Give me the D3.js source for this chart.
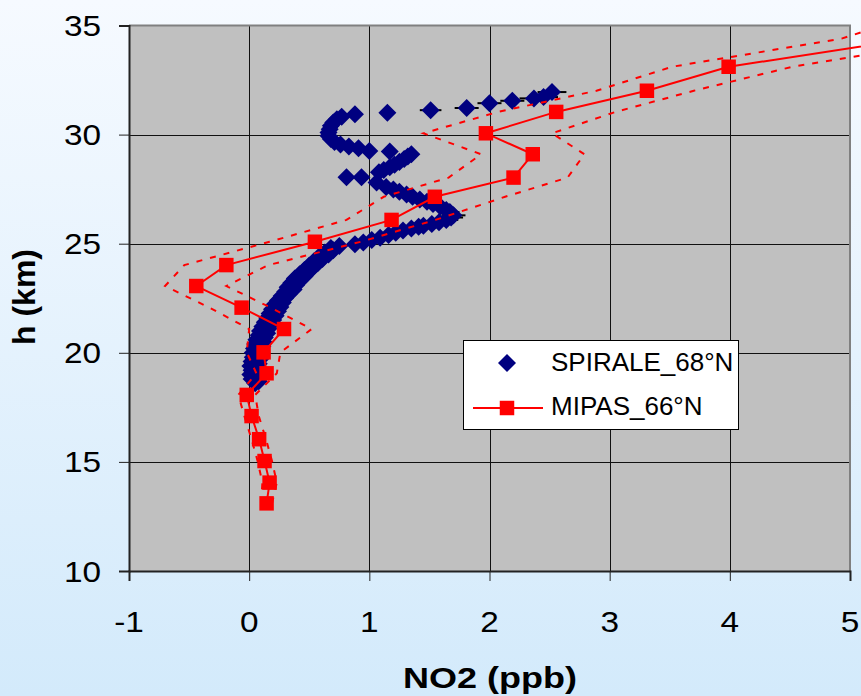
<!DOCTYPE html>
<html><head><meta charset="utf-8">
<script src="https://cdn.jsdelivr.net/npm/d3@7"></script>
<style>html,body{margin:0;padding:0;overflow:hidden;background:#fff;} svg{display:block;}</style>
</head><body>
<svg id="chart" width="861" height="696"></svg>
<script>
// ---- tick labels ----
const xTicks = [-1, 0, 1, 2, 3, 4, 5];
const yTicks = [10, 15, 20, 25, 30, 35];

// ---- MIPAS_66°N : altitude (km), NO2 (ppb), lower / upper bound ----
const mipasAlt  = [13.1, 14.05, 15.04, 16.04, 17.1, 18.07, 19.06, 20.02, 21.09, 22.07, 23.06, 24.02, 25.09, 26.09, 27.15, 28.03, 29.1, 30.06, 31.04, 32.01, 33.11, 34.4, 35.4];
const mipasNO2  = [0.145, 0.17, 0.128, 0.083, 0.02, -0.02, 0.145, 0.12, 0.29, -0.063, -0.44, -0.19, 0.547, 1.185, 1.545, 2.20, 2.36, 1.97, 2.555, 3.31, 3.99, 5.53, 6.2];
const mipasLow  = [0.10, 0.11, 0.07, 0.02, -0.04, -0.09, 0.06, -0.02, 0.0, -0.33, -0.70, -0.54, 0.17, 0.81, 1.12, 1.66, 1.93, 1.45, 2.07, 2.89, 3.52, 4.93, 5.5];
const mipasHigh = [0.19, 0.23, 0.19, 0.14, 0.08, 0.05, 0.23, 0.26, 0.52, 0.18, -0.19, 0.16, 0.93, 1.55, 2.13, 2.65, 2.79, 2.52, 3.05, 3.70, 4.52, 5.95, 6.8];

// ---- SPIRALE_68°N : [altitude km, NO2 ppb, error ppb] ----
const spiraleLower = [
  [18.6,0.05,0.05],[18.7,0.08,0.05],[18.8,0.02,0.05],[18.9,0.06,0.05],[19.0,0.01,0.05],[19.1,0.08,0.05],
  [19.2,0.02,0.05],[19.3,0.07,0.05],[19.4,0.01,0.05],[19.5,0.08,0.05],[19.6,0.02,0.05],[19.7,0.09,0.05],
  [19.8,0.03,0.05],[19.9,0.09,0.05],[20.0,0.03,0.05],[20.1,0.10,0.05],[20.2,0.04,0.05],[20.3,0.11,0.05],
  [20.4,0.05,0.05],[20.5,0.12,0.05],[20.6,0.06,0.05],[20.7,0.13,0.05],[20.8,0.08,0.05],[20.9,0.15,0.05],
  [21.0,0.09,0.05],[21.1,0.16,0.05],[21.2,0.11,0.05],[21.3,0.18,0.05],[21.4,0.13,0.05],[21.5,0.20,0.05],
  [21.6,0.15,0.05],[21.7,0.22,0.05],[21.8,0.17,0.05],[21.9,0.24,0.05],[22.0,0.19,0.05],[22.1,0.26,0.05],
  [22.2,0.21,0.05],[22.3,0.28,0.05],[22.4,0.24,0.05],[22.5,0.30,0.05],[22.6,0.27,0.05],[22.7,0.33,0.05],
  [22.8,0.30,0.05],[22.9,0.37,0.05],[23.0,0.32,0.05],[23.1,0.39,0.05],[23.2,0.35,0.05],[23.3,0.42,0.05],
  [23.4,0.38,0.05],[23.5,0.46,0.05],[23.6,0.42,0.05],[23.7,0.49,0.05],[23.8,0.46,0.05],[23.9,0.53,0.05],
  [24.0,0.50,0.05],[24.1,0.57,0.05],[24.2,0.54,0.05],[24.3,0.61,0.05],[24.4,0.58,0.05],[24.5,0.66,0.05],
  [24.6,0.63,0.05],[24.7,0.70,0.05],[24.8,0.68,0.05],[24.9,0.75,0.05]
];
const spiraleUpper = [
  [24.97,0.88,0.05],[25.06,0.95,0.05],[25.17,1.02,0.05],[25.27,1.09,0.05],[25.4,1.16,0.05],[25.5,1.22,0.05],
  [25.6,1.28,0.05],[25.7,1.35,0.05],[25.78,1.41,0.08],[25.82,1.45,0.08],[25.9,1.52,0.1],[25.98,1.58,0.1],
  [26.09,1.64,0.1],[26.2,1.68,0.1],[26.3,1.70,0.1],[26.45,1.67,0.08],[26.55,1.64,0.05],[26.7,1.59,0.05],
  [26.82,1.53,0.05],[26.92,1.48,0.05],[27.02,1.42,0.05],[27.15,1.36,0.05],[27.25,1.31,0.05],[27.38,1.25,0.05],
  [27.48,1.20,0.05],[27.6,1.14,0.05],[27.8,1.06,0.05],[28.05,0.935,0.05],[28.05,0.81,0.05],
  [28.28,1.08,0.05],[28.38,1.12,0.05],[28.5,1.17,0.05],[28.62,1.21,0.05],[28.75,1.25,0.05],[28.88,1.29,0.05],
  [29.0,1.32,0.05],[29.1,1.35,0.05],[29.22,1.17,0.05],[29.25,1.0,0.05],[29.38,0.91,0.05],[29.46,0.83,0.05],
  [29.55,0.76,0.05],[29.66,0.71,0.05],[29.8,0.68,0.05],[29.95,0.66,0.05],[30.1,0.66,0.05],[30.25,0.67,0.05],
  [30.4,0.68,0.05],[30.55,0.70,0.05],[30.7,0.73,0.05],[30.82,0.77,0.05],[30.93,0.88,0.05],[31.0,1.15,0.05],
  [31.12,1.51,0.09],[31.22,1.81,0.1],[31.44,2.0,0.1],[31.55,2.19,0.1],[31.66,2.37,0.12],[31.72,2.45,0.12],
  [31.95,2.52,0.12]
];

const W = 861, H = 696;
const svg = d3.select("#chart");
const x = d3.scaleLinear().domain([-1, 5]).range([129, 850]);
const y = d3.scaleLinear().domain([10, 35]).range([571, 25.5]);

// background gradient
const defs = svg.append("defs");
const grad = defs.append("linearGradient").attr("id", "bg").attr("x1", 0).attr("y1", 0).attr("x2", 0).attr("y2", 1);
grad.append("stop").attr("offset", "0%").attr("stop-color", "#f6faff");
grad.append("stop").attr("offset", "100%").attr("stop-color", "#d3eafb");
svg.append("rect").attr("width", W).attr("height", H).attr("fill", "url(#bg)");

// plot area
const [x0, x1] = x.range(), [y0, y1] = y.range();
svg.append("rect").attr("x", x0).attr("y", y1).attr("width", x1 - x0).attr("height", y0 - y1).attr("fill", "#c0c0c0");

// grid
const grid = svg.append("g").attr("stroke", "#111").attr("stroke-width", 1).attr("shape-rendering", "crispEdges");
grid.selectAll(".gv").data(xTicks.slice(1, -1)).join("line")
  .attr("x1", d => Math.round(x(d)) + 0.5).attr("x2", d => Math.round(x(d)) + 0.5)
  .attr("y1", y1).attr("y2", y0);
grid.selectAll(".gh").data(yTicks.slice(1, -1)).join("line")
  .attr("y1", d => Math.round(y(d)) + 0.5).attr("y2", d => Math.round(y(d)) + 0.5)
  .attr("x1", x0).attr("x2", x1);

// border
svg.append("line").attr("x1", x0).attr("x2", x1 + 1).attr("y1", y1).attr("y2", y1).attr("stroke", "#808080").attr("stroke-width", 2);
svg.append("line").attr("x1", x1).attr("x2", x1).attr("y1", y1).attr("y2", y0).attr("stroke", "#808080").attr("stroke-width", 2);

// axes
const yAxis = d3.axisLeft(y).tickValues(yTicks).tickSize(10).tickFormat("");
const xAxis = d3.axisBottom(x).tickValues(xTicks).tickSize(10).tickFormat("");
const gy = svg.append("g").attr("transform", `translate(${x0},0)`).call(yAxis);
const gx = svg.append("g").attr("transform", `translate(0,${y0})`).call(xAxis);
[gy, gx].forEach(g => {
  g.select(".domain").attr("stroke", "#222").attr("stroke-width", 2);
  g.selectAll(".tick line").attr("stroke", "#222").attr("stroke-width", 1);
});

const font = "'Liberation Sans', Arial, sans-serif";
svg.append("g").selectAll("text").data(yTicks).join("text")
  .attr("transform", d => `translate(101,${y(d) + 10.5}) scale(1.15,1)`)
  .attr("text-anchor", "end").attr("font-family", font).attr("font-size", 29).attr("fill", "#000")
  .text(d => d);
svg.append("g").selectAll("text").data(xTicks).join("text")
  .attr("transform", d => `translate(${x(d)},632) scale(1.15,1)`)
  .attr("text-anchor", "middle").attr("font-family", font).attr("font-size", 29).attr("fill", "#000")
  .text(d => d);

svg.append("text").attr("transform", "translate(490,688) scale(1.2,1)")
  .attr("text-anchor", "middle").attr("font-family", font).attr("font-size", 30).attr("font-weight", "bold")
  .text("NO2 (ppb)");
svg.append("text").attr("transform", "translate(35,297) rotate(-90)")
  .attr("text-anchor", "middle").attr("font-family", font).attr("font-size", 32).attr("font-weight", "bold")
  .text("h (km)");

// SPIRALE
const spiral = spiraleLower.concat(spiraleUpper);
svg.append("g").selectAll("line").data(spiral).join("line")
  .attr("x1", d => x(d[1] - d[2])).attr("x2", d => x(d[1] + d[2]))
  .attr("y1", d => y(d[0])).attr("y2", d => y(d[0]))
  .attr("stroke", "#000").attr("stroke-width", 2);
const diamond = d3.symbol(d3.symbolSquare, 162)();
svg.append("g").selectAll("path").data(spiral).join("path")
  .attr("d", diamond)
  .attr("transform", d => `translate(${x(d[1])},${y(d[0])}) rotate(45)`)
  .attr("fill", "#000080");

// MIPAS
const idx = d3.range(mipasAlt.length);
const lineOf = arr => d3.line().x(i => x(arr[i])).y(i => y(mipasAlt[i]))(idx);
svg.append("path").attr("d", lineOf(mipasLow)).attr("fill", "none").attr("stroke", "#ff0000")
  .attr("stroke-width", 2).attr("stroke-dasharray", "6,8");
svg.append("path").attr("d", lineOf(mipasHigh)).attr("fill", "none").attr("stroke", "#ff0000")
  .attr("stroke-width", 2).attr("stroke-dasharray", "6,8");
svg.append("path").attr("d", lineOf(mipasNO2)).attr("fill", "none").attr("stroke", "#ff0000").attr("stroke-width", 2);
const sq = d3.symbol(d3.symbolSquare, 210)();
svg.append("g").selectAll("path").data(idx).join("path")
  .attr("d", sq).attr("transform", i => `translate(${x(mipasNO2[i])},${y(mipasAlt[i])})`)
  .attr("fill", "#ff0000");

// legend
const lg = svg.append("g");
lg.append("rect").attr("x", 463.5).attr("y", 340.5).attr("width", 275).attr("height", 89)
  .attr("fill", "#fff").attr("stroke", "#000").attr("stroke-width", 1);
lg.append("path").attr("d", diamond).attr("transform", "translate(507,363) rotate(45)").attr("fill", "#000080");
lg.append("line").attr("x1", 473).attr("x2", 543).attr("y1", 408).attr("y2", 408).attr("stroke", "#ff0000").attr("stroke-width", 2);
lg.append("path").attr("d", sq).attr("transform", "translate(507,408)").attr("fill", "#ff0000");
lg.append("text").attr("x", 551).attr("y", 371).attr("font-family", font).attr("font-size", 26).text("SPIRALE_68°N");
lg.append("text").attr("x", 551).attr("y", 415).attr("font-family", font).attr("font-size", 26).text("MIPAS_66°N");
</script>
</body></html>
